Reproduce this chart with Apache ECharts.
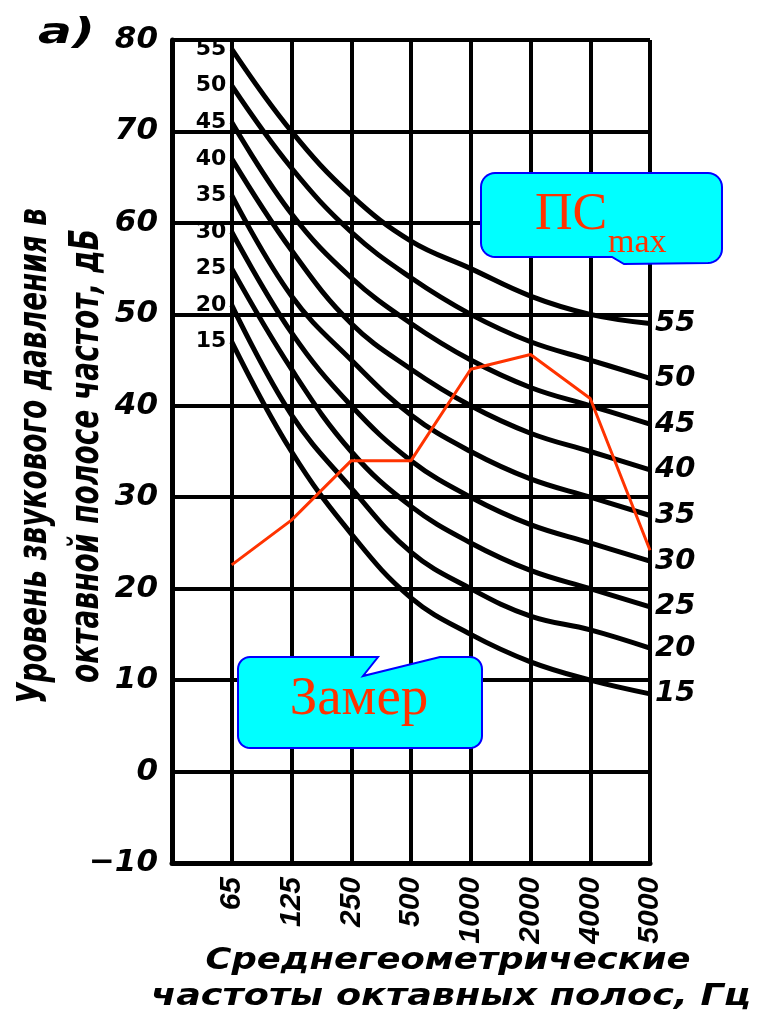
<!DOCTYPE html>
<html><head><meta charset="utf-8">
<script src="https://cdn.jsdelivr.net/npm/echarts@6/dist/echarts.min.js"></script>
<style>html,body{margin:0;padding:0;background:#fff}#c{width:758px;height:1014px}</style>
</head><body><div id="c"></div>
<script>
// ---- data ----
const categories = ['', '65', '125', '250', '500', '1000', '2000', '4000', '5000'];
const psLevels = [15, 20, 25, 30, 35, 40, 45, 50, 55];
const ps15 = [47, 35, 26, 19, 15, 12, 10, 8.5];
const ps20 = [51, 39, 31, 24, 20, 17, 15.5, 13.5];
const ps25 = [55, 44, 35, 29, 25, 22, 20, 18];
const ps30 = [59, 48, 40, 34, 30, 27, 25, 23];
const ps35 = [63, 52, 45, 39, 35, 32, 30, 28];
const ps40 = [67, 57, 49, 44, 40, 37, 35, 33];
const ps45 = [71, 61, 54, 49, 45, 42, 40, 38];
const ps50 = [75, 66, 59, 54, 50, 47, 45, 43];
const ps55 = [79, 70, 63, 58, 55, 52, 50, 49];
const measured = [22.6, 27.5, 34, 34, 44, 45.6, 40.8, 24.2];
const yMin = -10, yMax = 80, yStep = 10;

const psData = [ps15, ps20, ps25, ps30, ps35, ps40, ps45, ps50, ps55];

// ---- helpers ----
const mctx = document.createElement('canvas').getContext('2d');
function fit(text, font, target) { mctx.font = font; return target / mctx.measureText(text).width; }
function arc(cx, cy, r, a0, a1, n) {
  n = n || 8; const p = [];
  for (let i = 0; i <= n; i++) { const a = a0 + (a1 - a0) * i / n; p.push([cx + r * Math.cos(a), cy + r * Math.sin(a)]); }
  return p;
}
const PI = Math.PI;
const RED = '#ff3300';
const bold = '"DejaVu Sans"';

const series = psLevels.map((lvl, i) => ({
  type: 'line',
  name: 'ПС-' + lvl,
  data: [null].concat(psData[i]),
  smooth: 0.4,
  showSymbol: true,
  symbol: 'circle',
  symbolSize: 1,
  itemStyle: { color: '#000' },
  lineStyle: { color: '#000', width: 5 },
  label: {
    show: true, position: 'left', distance: 5,
    formatter: p => (p.dataIndex === 1 ? String(lvl) : ''),
    color: '#000', fontFamily: bold, fontWeight: 'bold', fontSize: 22
  },
  endLabel: {
    show: true, distance: 5, formatter: () => String(lvl),
    color: '#000', fontFamily: bold, fontWeight: 'bold', fontStyle: 'italic', fontSize: 29
  },
  emphasis: { disabled: true },
  silent: true,
  z: 3
}));
series.push({
  type: 'line',
  name: 'Замер',
  data: [null].concat(measured),
  symbol: 'none',
  lineStyle: { color: RED, width: 3 },
  emphasis: { disabled: true },
  silent: true,
  z: 5
});

// ---- annotation graphics ----
const fTitle = 'italic bold 28px "DejaVu Sans"';
const fX = 'italic bold 30px "DejaVu Sans"';
const fA = 'italic bold 36px "DejaVu Sans"';
function txt(o) {
  return Object.assign({ type: 'text', z: 100 }, o);
}
const psPoly = [].concat(
  arc(495, 187, 14, -PI, -PI / 2),
  arc(708, 187, 14, -PI / 2, 0),
  arc(708, 249, 14, 0, PI / 2),
  [[624, 264], [612, 257]],
  arc(495, 243, 14, PI / 2, PI)
);
const zPoly = [].concat(
  arc(250, 669, 12, -PI, -PI / 2),
  [[378, 657], [363, 676], [440, 657]],
  arc(470, 669, 12, -PI / 2, 0),
  arc(470, 736, 12, 0, PI / 2),
  arc(250, 736, 12, PI / 2, PI)
);
const t1 = 'Уровень звукового давления в';
const t2 = 'октавной полосе частот, дБ';
const x1 = 'Среднегеометрические';
const x2 = 'частоты октавных полос, Гц';
const mid = { align: 'center', verticalAlign: 'middle', textAlign: 'center', textVerticalAlign: 'middle' };

const graphic = [
  txt({ x: 38, y: 34, scaleX: fit('а)', fA, 57), style: { text: 'а)', font: fA, fill: '#000', align: 'left', verticalAlign: 'middle', textAlign: 'left', textVerticalAlign: 'middle' } }),
  txt({ x: 35, y: 456, rotation: PI / 2, scaleX: fit(t1, fTitle, 496), scaleY: 1.45, style: Object.assign({ text: t1, font: fTitle, fill: '#000' }, mid) }),
  txt({ x: 87, y: 456, rotation: PI / 2, scaleX: fit(t2, fTitle, 454), scaleY: 1.45, style: Object.assign({ text: t2, font: fTitle, fill: '#000' }, mid) }),
  txt({ x: 448, y: 961, scaleX: fit(x1, fX, 485), style: Object.assign({ text: x1, font: fX, fill: '#000' }, mid) }),
  txt({ x: 451, y: 997, scaleX: fit(x2, fX, 600), style: Object.assign({ text: x2, font: fX, fill: '#000' }, mid) }),
  { type: 'polygon', z: 100, shape: { points: psPoly }, style: { fill: '#00ffff', stroke: '#0000ff', lineWidth: 2 } },
  txt({ x: 535, y: 215, z: 101, style: { text: 'ПС', font: '52px "Liberation Serif"', fill: RED, align: 'left', verticalAlign: 'middle', textAlign: 'left', textVerticalAlign: 'middle' } }),
  txt({ x: 608, y: 243, z: 101, style: { text: 'max', font: '34px "Liberation Serif"', fill: RED, align: 'left', verticalAlign: 'middle', textAlign: 'left', textVerticalAlign: 'middle' } }),
  { type: 'polygon', z: 100, shape: { points: zPoly }, style: { fill: '#00ffff', stroke: '#0000ff', lineWidth: 2 } },
  txt({ x: 359, y: 700, z: 101, style: Object.assign({ text: 'Замер', font: '55px "Liberation Serif"', fill: RED }, mid) })
];

const chart = echarts.init(document.getElementById('c'), null, { renderer: 'canvas' });
chart.setOption({
  animation: false,
  backgroundColor: '#fff',
  grid: { left: 172, right: 108, top: 40, bottom: 151, containLabel: false },
  xAxis: {
    type: 'category', data: categories, boundaryGap: false,
    axisLine: { onZero: false, lineStyle: { color: '#000', width: 5 } },
    axisTick: { show: false },
    splitLine: { show: true, lineStyle: { color: '#000', width: 4 } },
    axisLabel: {
      interval: 0, rotate: 90, margin: 14, color: '#000',
      fontFamily: '"Liberation Sans"',
      fontWeight: 'bold', fontStyle: 'italic', fontSize: 30
    }
  },
  yAxis: {
    type: 'value', min: yMin, max: yMax, interval: yStep,
    axisLine: { show: true, lineStyle: { color: '#000', width: 5 } },
    axisTick: { show: false },
    splitLine: { show: true, lineStyle: { color: '#000', width: 4 } },
    axisLabel: {
      margin: 14, color: '#000', fontFamily: bold, fontWeight: 'bold', fontStyle: 'italic', fontSize: 31,
      formatter: v => (v < 0 ? '−' + (-v) : String(v))
    }
  },
  series: series,
  graphic: graphic
});
</script></body></html>
